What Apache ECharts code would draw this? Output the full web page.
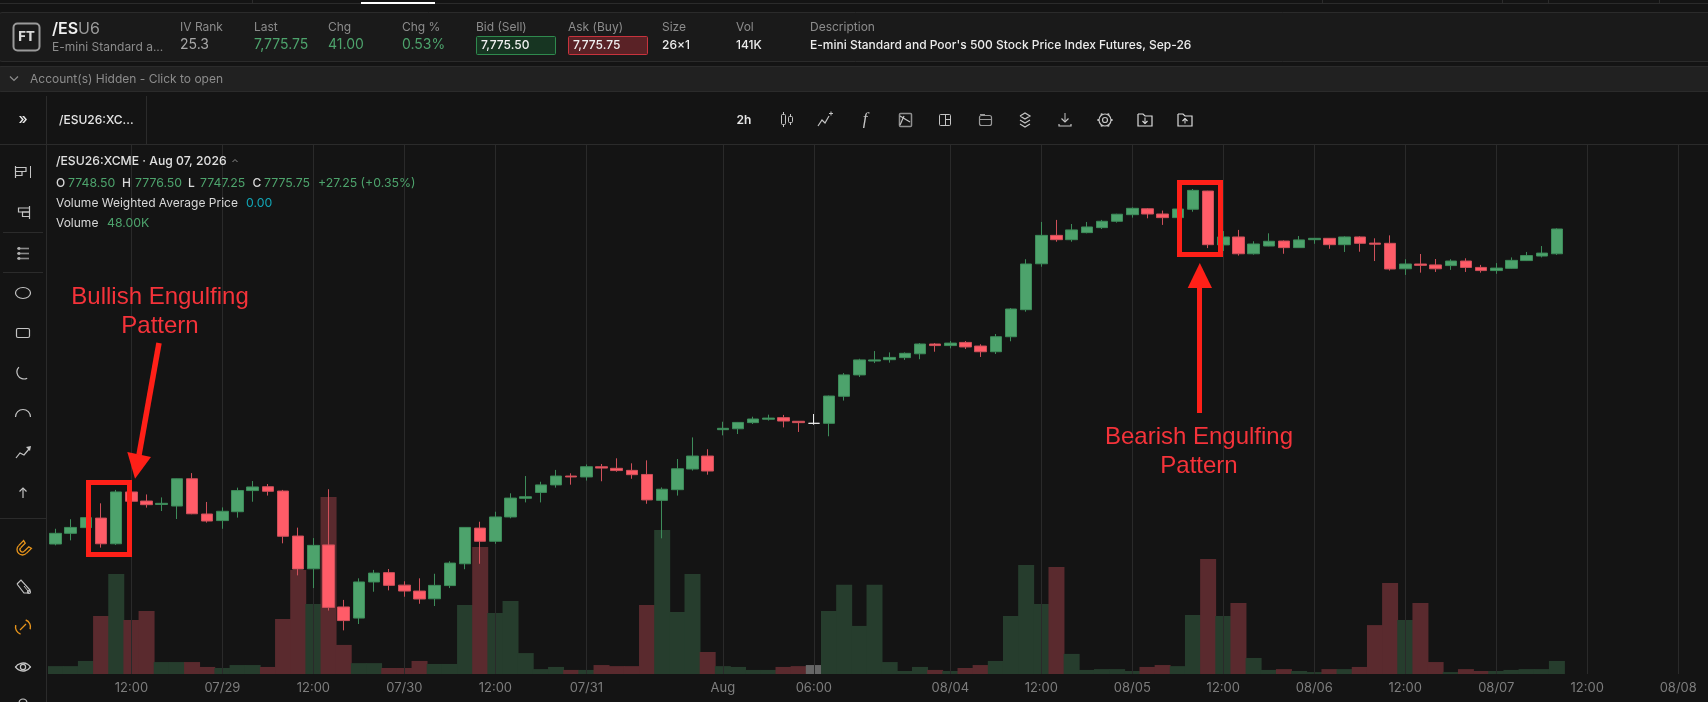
<!DOCTYPE html>
<html>
<head>
<meta charset="utf-8">
<style>html,body{margin:0;padding:0;background:#141414;overflow:hidden}#c{width:1708px;height:702px}</style>
<script src="https://cdn.jsdelivr.net/npm/echarts@6/dist/echarts.min.js"></script>
</head>
<body>
<div id="c"></div>
<script>
// 2h candles: [open, close, low, high]
const candles = [
[7429.25,7441,7427.75,7446],[7441,7447.5,7433.25,7456.5],[7447.25,7458.25,7447,7458.5],[7457.75,7429.5,7425.25,7474],
[7429.5,7486.5,7428.25,7488.75],[7486.5,7476.25,7469.5,7491.5],[7476.5,7472.5,7469.25,7483.75],[7472.75,7474,7465.5,7480.5],
[7471,7501,7456.75,7501.25],[7501,7462.5,7462,7507.25],[7462.25,7454.5,7452.75,7475.5],[7455,7465.25,7446,7469.5],
[7464.75,7488,7458.25,7491.25],[7488,7492,7475.75,7498.5],[7492.25,7487.25,7482.5,7495.25],[7487.5,7437.75,7430,7488.75],
[7438,7401.75,7394.75,7447.25],[7402,7427.75,7380.75,7435.75],[7428.25,7359.5,7356,7489.5],[7360,7345,7334.25,7367.75],
[7347.75,7387.5,7341.25,7391.5],[7387.5,7397.25,7376.75,7400.75],[7397.75,7383.75,7378.25,7401.75],[7384,7377.5,7371.25,7388.25],
[7377.5,7368.75,7363.5,7391.5],[7369,7383.75,7361,7396.5],[7383.5,7408.25,7380.75,7410.25],[7407.5,7447.5,7401.5,7447.75],
[7446.75,7432.25,7407.5,7453.75],[7432.25,7459,7429.5,7464.75],[7459,7479.75,7457.5,7485],[7479.5,7481.25,7475,7504],
[7486,7494.25,7475,7497.75],[7494.25,7504,7491.25,7510.75],[7504,7503,7494.5,7507],[7503,7514.25,7499,7516.75],
[7514.25,7512.75,7498.25,7517.25],[7512.5,7510,7508.75,7523.5],[7510.25,7505.5,7501,7518],[7505.75,7477.75,7473.5,7521.25],
[7477.25,7489.5,7435.5,7491.5],[7489,7512,7482.5,7522.75],[7511.75,7526,7510,7546.5],[7526,7509.5,7505.5,7533.5],
[7555,7556.5,7548.75,7563.75],[7556,7563,7550.25,7563.5],[7562.75,7566.75,7561.25,7569.25],[7566.5,7567.75,7565,7571.5],
[7568.25,7564.5,7557.5,7571.25],[7564.25,7562.75,7552.5,7564.5],[7562,7562,7560.5,7572.25],[7562,7592,7547.75,7592.5],
[7591.75,7615.25,7587,7617.25],[7615.25,7631.75,7613,7633],[7630.5,7631.75,7628.25,7641.5],[7632,7634.5,7628.75,7640],
[7634.25,7639,7631.75,7640],[7638.5,7649.25,7632.5,7650.25],[7649.25,7647.5,7640.75,7650.25],[7647.5,7650.25,7644.5,7652.5],
[7651,7646,7643.75,7652.5],[7647,7640.75,7635,7649],[7640.75,7657.25,7638.25,7660.25],[7657.25,7687.75,7652.25,7688.75],
[7687,7737.25,7684.75,7742.5],[7737.5,7768.75,7734.25,7783.5],[7768.75,7764,7761.75,7785.75],[7764,7774.75,7761.75,7781.25],
[7771.75,7778,7771,7783.5],[7777.25,7784.25,7775.75,7785.75],[7784.25,7792,7782.75,7792.5],[7791.5,7798.5,7788.25,7799.5],
[7798,7792.25,7787.5,7798.75],[7792.25,7788.25,7780.25,7796],[7788.25,7797.75,7788,7798.5],[7797.5,7818.25,7794.75,7819.75],
[7817.5,7758.5,7754.75,7817.75],[7758.25,7767,7751.5,7773.5],[7767,7748.5,7746.5,7774.75],[7748.5,7759.25,7747.5,7762.25],
[7757,7762.25,7756.75,7771],[7762.5,7755.25,7748.5,7763.25],[7755.25,7763.75,7755,7768],[7764,7765.5,7759.5,7765.75],
[7765.5,7758.5,7754,7765.75],[7758.5,7767,7750.5,7767.75],[7767,7760,7750.75,7767.75],[7760.25,7759,7740.5,7765.5],
[7760,7731.75,7730,7768.75],[7732,7737.25,7725.25,7742.5],[7737.25,7735.75,7727.75,7748.25],[7736.25,7732,7728.5,7742.75],
[7735.5,7740.5,7730.75,7742.5],[7740.5,7733.5,7728.5,7743.5],[7733.5,7730,7727.75,7736.25],[7730,7732.75,7726.5,7738.25],
[7732.5,7741.25,7732,7744.5],[7741,7746.5,7740.5,7750.5],[7746,7749.25,7744.5,7757],[7748.5,7775.75,7747.25,7776.5]
];
// Volume per candle, thousands of contracts
const volumes = [
29,29,48,213,368,199,232,44,44,44,26,22,33,33,26,202,383,258,651,107,40,40,22,22,
48,37,37,254,467,224,269,77,18,26,15,15,33,29,29,254,530,228,368,81,29,26,15,15,26,29,
33,232,328,177,328,44,11,26,15,11,22,33,48,213,401,258,394,74,15,18,18,11,26,33,29,217,
423,213,261,59,15,18,11,7,18,18,26,180,335,199,261,44,7,18,11,11,15,18,18,48
];
const tickIndex = [5,11,17,23,29,35,44,50,59,65,71,77,83,89,95,101,107];
const tickText = ['12:00','07/29','12:00','07/30','12:00','07/31','Aug','06:00','08/04','12:00','08/05','12:00','08/06','12:00','08/07','12:00','08/08'];
const slots = 109;
const categories = Array.from({length:slots},(_,i)=>{const k=tickIndex.indexOf(i);return k>=0?tickText[k]:'b'+i;});

const C = {bg:'#141414',panel:'#1a1a1a',bar:'#212121',line:'#2b2b2b',grid:'#2a2a2a',dim:'#8c8c8c',soft:'#a8a8a8',
  white:'#e6e6e6',green:'#4da36c',greenB:'#3d8c5a',red:'#ff5c68',redB:'#cf505a',volG:'#263d2d',volR:'#5a2a2e',volN:'#666666',
  ann:'#ff2018',annT:'#f5333a',icon:'#c4c4c4',orange:'#e8951c'};
const F = 'Inter, "Noto Sans", sans-serif';

const g = [];
function txt(x,y,text,color,size,weight,align,family,italic){g.push({type:'text',silent:true,z:50,style:{x,y,text,fill:color,font:(italic?'italic ':'')+(weight||400)+' '+size+'px '+(family||F),align:align||'left',verticalAlign:'middle'}});}
function rect(x,y,w,h,fill,stroke,r,lw,z){g.push({type:'rect',silent:true,z:z||40,shape:{x,y,width:w,height:h,r:r||0},style:{fill:fill||'none',stroke:stroke||'none',lineWidth:lw||1}});}
function ln(x1,y1,x2,y2,color,lw,z){g.push({type:'line',silent:true,z:z||40,shape:{x1,y1,x2,y2},style:{stroke:color,lineWidth:lw||1}});}
function pl(points,color,lw){g.push({type:'polyline',silent:true,z:45,shape:{points},style:{stroke:color||C.icon,lineWidth:lw||1.2,fill:'none'}});}
function pg(points,fill,z){g.push({type:'polygon',silent:true,z:z||60,shape:{points},style:{fill}});}
function arc(cx,cy,r,a,b,color,lw){g.push({type:'arc',silent:true,z:45,shape:{cx,cy,r,startAngle:a,endAngle:b},style:{stroke:color||C.icon,lineWidth:lw||1.2,fill:'none'}});}
function circ(cx,cy,r,color,lw){g.push({type:'circle',silent:true,z:45,shape:{cx,cy,r},style:{stroke:color||C.icon,lineWidth:lw||1.2,fill:'none'}});}

// Top strip
ln(0,3.5,1708,3.5,C.line,1);
[252,1322,1502,1548,1659].forEach(x=>ln(x+.5,0,x+.5,3,C.line,1));
rect(361,2,74,2,'#ffffff');

// Quote panel
rect(-2,12.5,1720,49,C.panel,C.line,4);
rect(13.5,23.5,26,27,'none','#9a9a9a',4,2);
txt(26.5,37.5,'FT','#d8d8d8',13,800,'center');
txt(52,29,'/ES','#f0f0f0',16,600);
txt(78,29,'U6','#9a9a9a',16,400);
txt(52,47,'E-mini Standard a...',C.dim,12,400);
const heads=[[180,'IV Rank','25.3',C.soft],[254,'Last','7,775.75',C.green],[328,'Chg','41.00',C.green],[402,'Chg %','0.53%',C.green]];
heads.forEach(h=>{txt(h[0],27,h[1],C.dim,12,400);txt(h[0],45,h[2],h[3],14,400);});
txt(476,27,'Bid (Sell)',C.dim,12,400);
rect(476.5,36.5,79,18,'#173522','#2f8a4e',1);
txt(481,45.5,'7,775.50','#f0f0f0',12,500);
txt(568,27,'Ask (Buy)',C.dim,12,400);
rect(568.5,36.5,79,18,'#5a2226','#c8333d',1);
txt(573,45.5,'7,775.75','#f0f0f0',12,500);
txt(662,27,'Size',C.dim,12,400);txt(662,45.5,'26×1','#ececec',12,500);
txt(736,27,'Vol',C.dim,12,400);txt(736,45.5,'141K','#ececec',12,500);
txt(810,27,'Description',C.dim,12,400);
txt(810,45.5,"E-mini Standard and Poor's 500 Stock Price Index Futures, Sep-26",'#ececec',12,500);

// Accounts bar
rect(-2,66.5,1720,25,C.bar,C.line,3);
pl([[10,76.5],[14,80.5],[18,76.5]],C.dim,1.2);
txt(30,79,'Account(s) Hidden - Click to open',C.dim,12,400);

// Toolbars frame
ln(46.5,96,46.5,702,C.line,1);
ln(146.5,96,146.5,144,C.line,1);
ln(0,144.5,1708,144.5,C.line,1);
ln(3,232.5,43,232.5,C.line,1);
ln(3,272.5,43,272.5,C.line,1);
ln(0,518.5,46,518.5,C.line,1);
txt(23,119,'»','#e8e8e8',15,500,'center');
txt(59,120,'/ESU26:XC...','#e6e6e6',12,500);
txt(744,120,'2h','#e6e6e6',12,600,'center');

// Top toolbar icons
const I=C.icon;
rect(781.5,114.5,4,10,'none',I,1);ln(783.5,112,783.5,114.5,I);ln(783.5,124.5,783.5,127,I);
rect(788.5,116.5,4,6,'none',I,1);ln(790.5,114,790.5,116.5,I);ln(790.5,122.5,790.5,125,I);
pl([[818,126],[822,120],[825,123],[829,116]]);ln(829,113.5,833,113.5,I);ln(831,111.5,831,115.5,I);
txt(865,120,'f',I,17,400,'center','"Liberation Serif", serif',true);
rect(899.5,113.5,12,13,'none','#8f8f8f',1,1.5);pl([[900,116],[910,122]],I);pl([[900,125],[904,116]],I);
rect(939.5,114.5,11,11,'none',I,1);ln(945.5,114.5,945.5,125.5,I);ln(945.5,119.5,950.5,119.5,I);
rect(979.5,115.5,12,10,'none','#999',2,1.2);ln(980,119.5,991,119.5,'#999');ln(980,114.5,985,114.5,'#999');
pl([[1020,116],[1025,113],[1030,116],[1025,119],[1020,116]]);pl([[1020,120],[1025,123],[1030,120]]);pl([[1020,124],[1025,127],[1030,124]]);
ln(1065,113,1065,122,I);pl([[1061.5,118.5],[1065,122],[1068.5,118.5]]);pl([[1059,124],[1059,126],[1071,126],[1071,124]]);
circ(1105,120,2.5);circ(1105,120,6);
[0,1,2,3,4,5].forEach(k=>{const a=k*Math.PI/3;ln(1105+6*Math.cos(a),120+6*Math.sin(a),1105+7.6*Math.cos(a),120+7.6*Math.sin(a),I,2);});
[[1145,1],[1185,-1]].forEach(d=>{const x=d[0];pl([[x-7,114],[x-2,114],[x,116],[x+7,116],[x+7,126],[x-7,126],[x-7,114]],'#dcdcdc');ln(x,117.5+(d[1]<0?1:0),x,123.5,'#dcdcdc');pl(d[1]>0?[[x-2.5,121],[x,123.5],[x+2.5,121]]:[[x-2.5,121],[x,118.5],[x+2.5,121]],'#dcdcdc');});

// Left toolbar icons
pl([[15.5,166],[15.5,178]]);pl([[16,167.5],[26,167.5],[26,171.5],[16,171.5]]);pl([[16,171.5],[22,171.5],[22,175.5],[16,175.5]]);ln(30.5,166,30.5,178,I);
pl([[29.5,206],[29.5,219]]);pl([[29,208],[18.5,208],[18.5,212],[29,212]]);pl([[29,212],[22.5,212],[22.5,216.5],[29,216.5]]);
[248,253,258].forEach(y=>{ln(17,y+.5,29,y+.5,'#8a8a8a',1.6);g.push({type:'circle',silent:true,z:46,shape:{cx:19,cy:y+.5,r:1.4},style:{fill:'#b0b0b0'}});});
g.push({type:'ellipse',silent:true,z:45,shape:{cx:23,cy:293,rx:7.5,ry:5.5},style:{stroke:I,lineWidth:1.2,fill:'none'}});
rect(16.5,328.5,13,9,'none',I,1.5,1.2);
arc(24,372,7,1.1,3.9,I,1.2);
arc(23,417,7.5,Math.PI,2*Math.PI,I,1.2);
pl([[16,458],[20,453],[24,455],[29,449]]);pg([[26,447],[31,446],[30,451]],I,45);
ln(23,488,23,498,I,1.2);pl([[19.5,491.5],[23,488],[26.5,491.5]]);
// magnet
const O=C.orange;
arc(22.5,549.5,5.5,0.785,3.927,O,1.3);arc(22.5,549.5,2.5,0.785,3.927,O,1.3);
pl([[26.4,553.4],[31.4,548.4],[28.8,546.8],[24.27,551.27]],O,1.3);
pl([[18.6,545.6],[23.6,540.6],[25.2,543.2],[20.73,547.73]],O,1.3);
// brush, link, eye
pl([[17,584],[21,580],[30,590],[28,593],[24,593],[17,584]]);ln(24,586,28,591,I);circ(29,592,1.5);
arc(23,627,7.5,-1.2,0.3,O,1.4);arc(23,627,7.5,1.9,3.4,O,1.4);ln(20,630,26,624,O,1.2);
arc(23,672,9,-2.6,-0.55,I,1.3);arc(23,662,9,0.55,2.6,I,1.3);circ(23,667,2.6);
arc(23,703,4,Math.PI,2*Math.PI,I,1.2);

// Legend
const LS=12.3;
txt(56,161,'/ESU26:XCME · Aug 07, 2026','#e0e0e0',12.2,500);
pl([[232.5,162],[235,159.5],[237.5,162]],C.dim,1);
txt(56,183,'O','#d8d8d8',12,500);txt(68,183,'7748.50',C.green,LS);
txt(122,183,'H','#d8d8d8',12,500);txt(135,183,'7776.50',C.green,LS);
txt(188,183,'L','#d8d8d8',12,500);txt(200,183,'7747.25',C.green,LS);
txt(252.5,183,'C','#d8d8d8',12,500);txt(264,183,'7775.75',C.green,LS);
txt(318,183,'+27.25 (+0.35%)',C.green,LS);
txt(56,203,'Volume Weighted Average Price','#d8d8d8',12,400);txt(246,203,'0.00','#12a5b5',LS);
txt(56,223,'Volume','#d8d8d8',12,400);txt(107,223,'48.00K',C.green,LS);

// Annotations
rect(88.5,482.5,41,72,'none',C.ann,0,5,60);
rect(1179.5,182.5,41,72,'none',C.ann,0,5,60);
ln(159,343,139,455,C.ann,5.5,60);
pg([[127.3,452],[151,457],[135,478.7]],C.ann);
ln(1199.5,287,1199.5,413,C.ann,5,60);
pg([[1187.7,288],[1212,288],[1199.8,263]],C.ann);
const AF='"Liberation Sans", Arial, sans-serif';
txt(160,297.5,'Bullish Engulfing',C.annT,24,400,'center',AF);
txt(160,326.5,'Pattern',C.annT,24,400,'center',AF);
txt(1199,437,'Bearish Engulfing',C.annT,24,400,'center',AF);
txt(1199,466,'Pattern',C.annT,24,400,'center',AF);

const chart = echarts.init(document.getElementById('c'),null,{renderer:'canvas'});
chart.setOption({
  animation:false,
  backgroundColor:C.bg,
  graphic:{elements:g},
  grid:{left:48,top:144,width:slots*15.165,height:530,containLabel:false},
  xAxis:{type:'category',data:categories,boundaryGap:true,axisLine:{show:false},axisTick:{show:false},splitLine:{show:false},
    axisLabel:{interval:(i)=>tickIndex.includes(i),color:'#7d7d7d',fontFamily:F,fontSize:13,margin:8,hideOverlap:false}},
  yAxis:[
    {type:'value',min:7286.25,max:7869.25,show:false,splitLine:{show:false},scale:true},
    {type:'value',min:0,max:1950,show:false,splitLine:{show:false}}
  ],
  series:[
    {type:'bar',name:'Volume',yAxisIndex:1,barWidth:16,barGap:0,z:2,
     data:volumes.map((v,i)=>({value:v,itemStyle:{color:candles[i][1]>candles[i][0]?C.volG:(candles[i][1]<candles[i][0]?C.volR:C.volN)}})),
     markLine:{silent:true,symbol:'none',animation:false,label:{show:false},z:5,
       lineStyle:{color:C.grid,width:1,type:'solid',opacity:1},
       data:tickIndex.map(i=>({xAxis:i}))}},
    {type:'candlestick',name:'/ESU26',yAxisIndex:0,z:6,barWidth:12,data:candles,
     itemStyle:{color:C.green,color0:C.red,borderColor:C.greenB,borderColor0:C.redB,borderColorDoji:'#ececec',borderWidth:1}}
  ]
});
</script>
</body>
</html>
